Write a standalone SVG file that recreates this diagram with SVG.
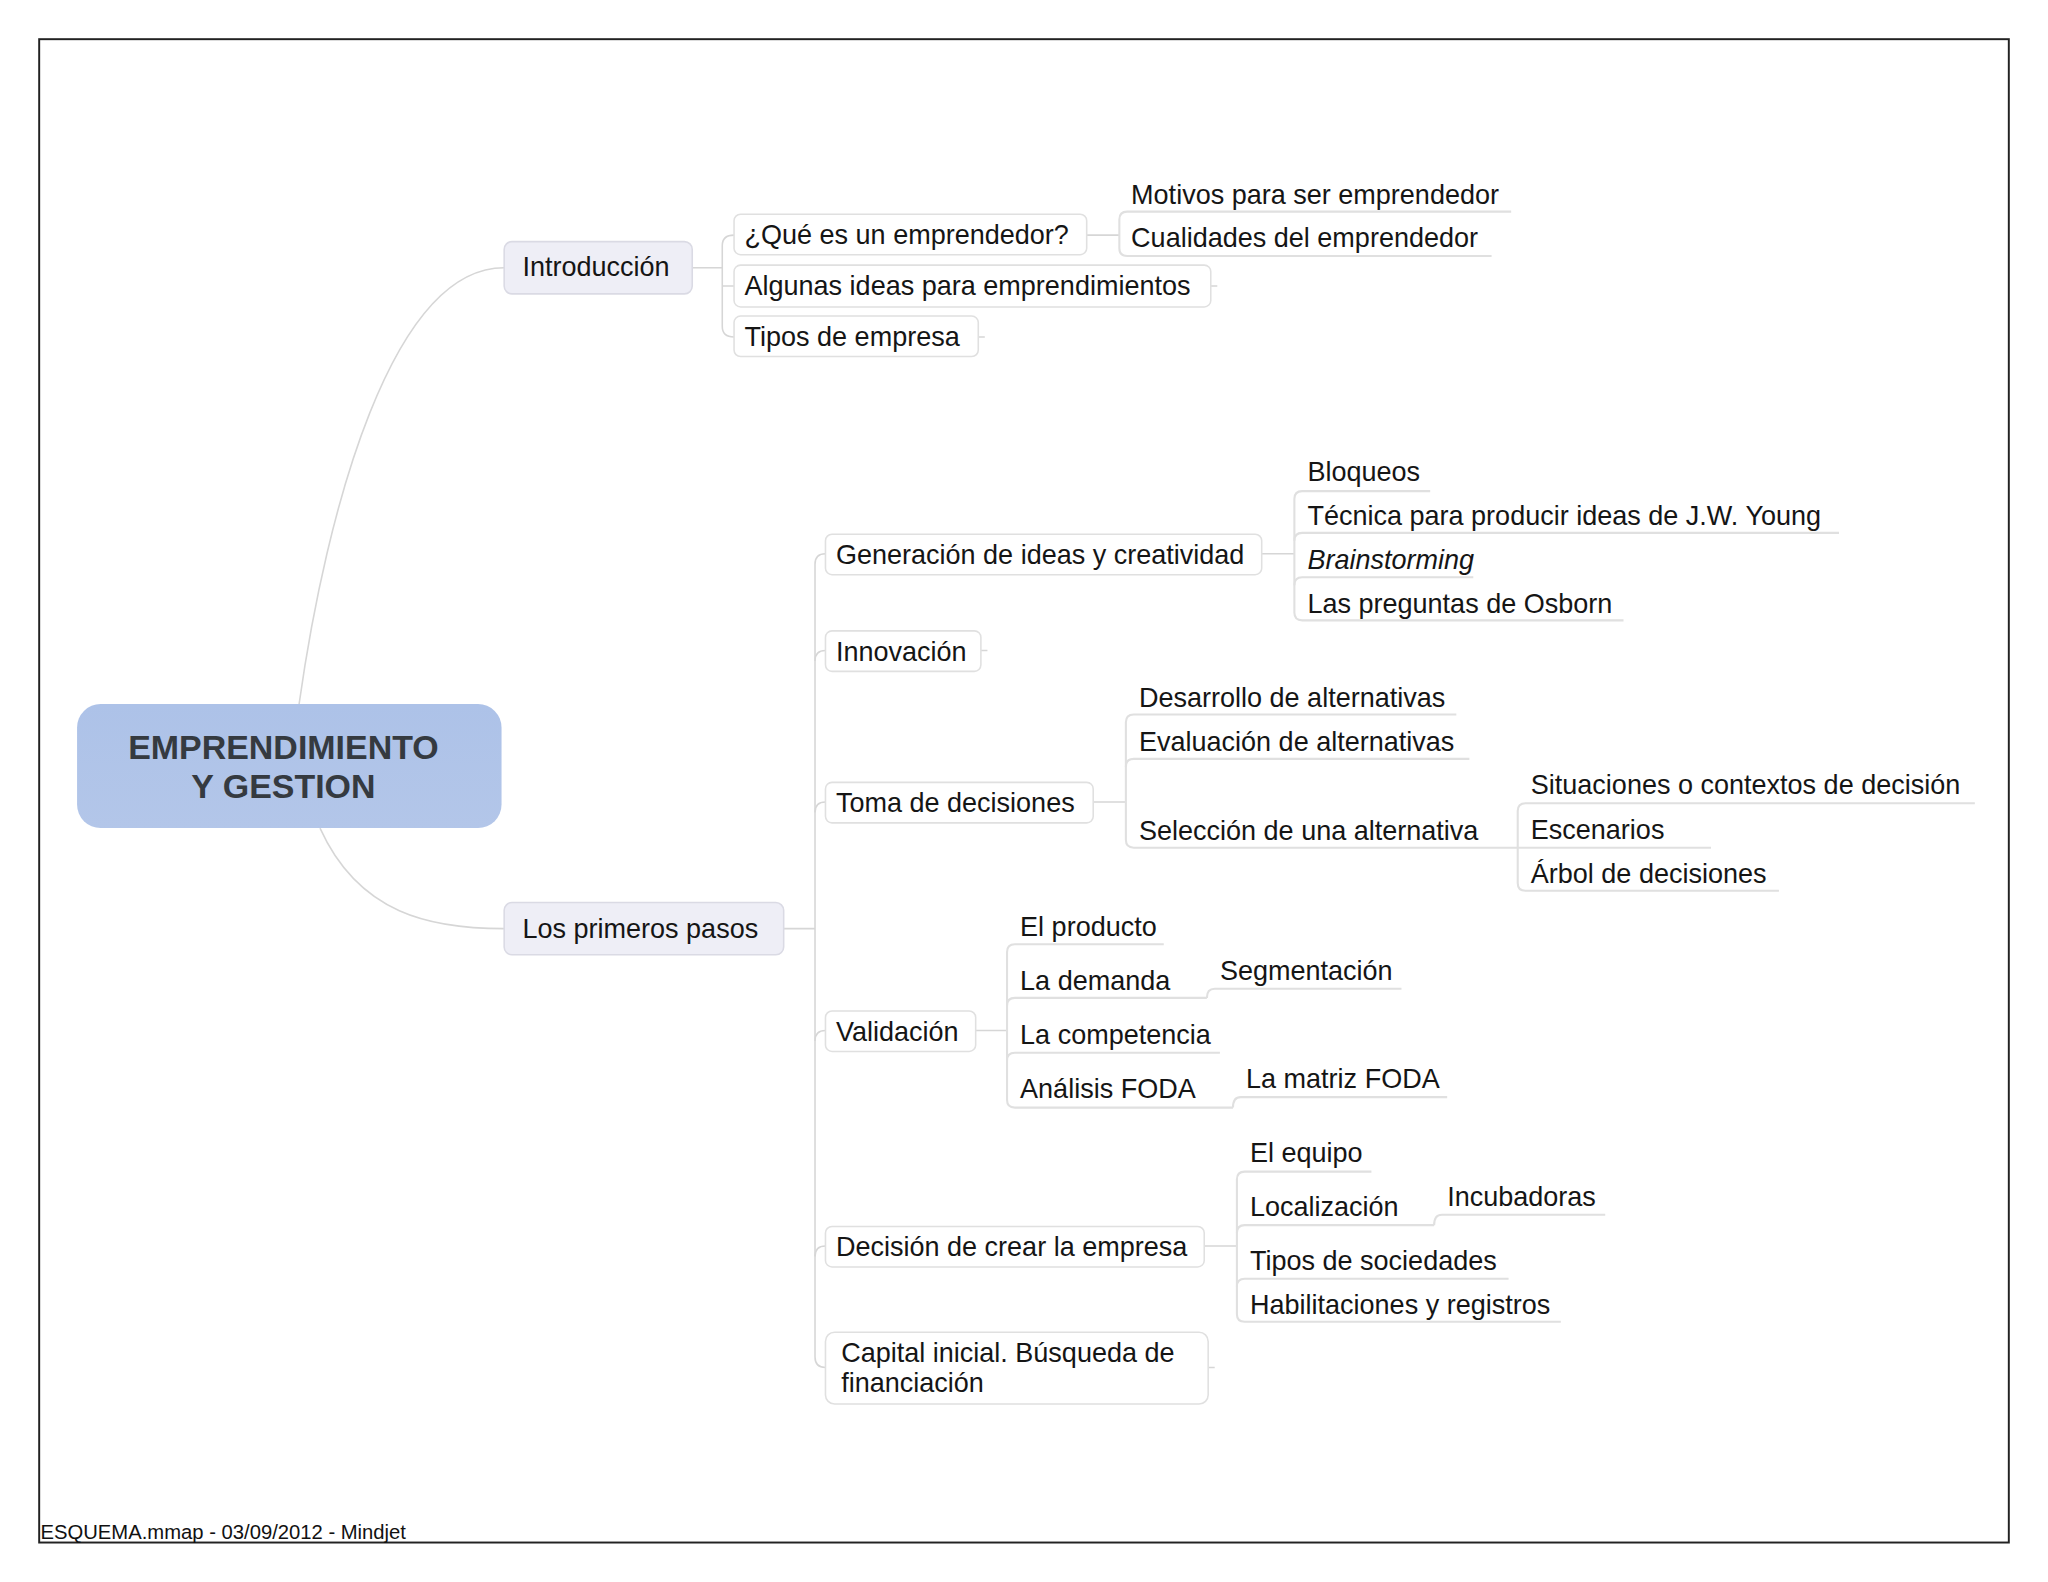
<svg xmlns="http://www.w3.org/2000/svg" width="2048" height="1582" viewBox="0 0 2048 1582">
<style>
text{font-family:"Liberation Sans",Arial,sans-serif;font-size:20.7px;fill:#151515}
.it{font-style:italic}
.ct{font-size:26px;font-weight:bold;fill:#353a40}
.ft{font-size:15.5px;fill:#111}
.conn{fill:none;stroke:#d6d6d6;stroke-width:1.2}
.ul{fill:none;stroke:#e0e0e0;stroke-width:1.6}
.box{fill:#fff;stroke:#e0e0e0;stroke-width:1.2}
.main{fill:#eeeef6;stroke:#dadae4;stroke-width:1.2}
</style>
<defs>
<linearGradient id="cg" x1="0" y1="0" x2="0" y2="1">
<stop offset="0" stop-color="#adc2e8"/>
<stop offset="1" stop-color="#b3c6e9"/>
</linearGradient>
</defs>
<rect x="0" y="0" width="2048" height="1582" fill="#fff"/>
<g transform="scale(1.306122)">
<rect x="30" y="30" width="1508" height="1151" fill="none" stroke="#222" stroke-width="1.5"/>
<text class="ft" x="31" y="1178">ESQUEMA.mmap - 03/09/2012 - Mindjet</text>

<g id="connectors">
<path class="conn" d="M229,539 C250,390 300,205 386,205"/>
<path class="conn" d="M245,634 C275,700 330,711 386,711"/>
<path class="conn" d="M530,205 L553,205"/>
<path class="conn" d="M562,180 Q553,180 553,188 L553,250 Q553,258 562,258 M553,219 L562,219"/>
<path class="conn" d="M927,219 L932,219 M749,258 L754,258"/>
<path class="conn" d="M832,180 L857,180"/>
<path class="ul" d="M1157,162 L863,162 Q857,162 857,168 L857,190 Q857,196 863,196 L1142,196"/>
<path class="conn" d="M600,711 L624,711"/>
<path class="conn" d="M632,424 Q624,424 624,432 L624,1039 Q624,1047 632,1047"/>
<path class="conn" d="M624,506 Q624,498 632,498 M624,622 Q624,614 632,614 M624,797 Q624,789 632,789 M624,962 Q624,954 632,954"/>
<path class="conn" d="M751,498 L756,498 M925,1047 L930,1047"/>
<path class="conn" d="M966,424 L991,424"/>
<path class="ul" d="M1095,376 L997,376 Q991,376 991,382 L991,469 Q991,475 997,475 L1243,475"/>
<path class="ul" d="M991,414 Q991,408 997,408 L1408,408 M991,448 Q991,442 997,442 L1128,442"/>
<path class="conn" d="M837,614 L862,614"/>
<path class="ul" d="M1115,547 L868,547 Q862,547 862,553 L862,643 Q862,649 868,649 L1162,649"/>
<path class="ul" d="M862,587 Q862,581 868,581 L1125,581"/>
<path class="ul" d="M1512,615 L1168,615 Q1162,615 1162,621 L1162,676 Q1162,682 1168,682 L1362,682"/>
<path class="ul" d="M1162,649 L1310,649"/>
<path class="conn" d="M747,789 L771,789"/>
<path class="ul" d="M891,723 L777,723 Q771,723 771,729 L771,842 Q771,848 777,848 L944,848"/>
<path class="ul" d="M771,770 Q771,764 777,764 L924,764 M771,812 Q771,806 777,806 L934,806"/>
<path class="ul" d="M924,764 Q924,757 930,757 L1073,757"/>
<path class="ul" d="M944,848 Q944,840 950,840 L1108,840"/>
<path class="conn" d="M922,954 L947,954"/>
<path class="ul" d="M1050,897 L953,897 Q947,897 947,903 L947,1006 Q947,1012 953,1012 L1195,1012"/>
<path class="ul" d="M947,944 Q947,938 953,938 L1098,938 M947,985 Q947,979 953,979 L1155,979"/>
<path class="ul" d="M1098,938 Q1098,930 1104,930 L1229,930"/>
</g>

<g id="central">
<rect x="59" y="539" width="325" height="95" rx="18" fill="url(#cg)"/>
<text class="ct" x="217" y="581" text-anchor="middle">EMPRENDIMIENTO</text>
<text class="ct" x="217" y="611" text-anchor="middle">Y GESTION</text>
</g>

<g id="introduccion"><rect class="main" x="386" y="185" width="144" height="40" rx="6"/><text x="400" y="211">Introducción</text></g>
<g id="primeros"><rect class="main" x="386" y="691" width="214" height="40" rx="6"/><text x="400" y="718">Los primeros pasos</text></g>

<g id="que-es"><rect class="box" x="562" y="164" width="270" height="31" rx="5"/><text x="570" y="187">¿Qué es un emprendedor?</text></g>
<g id="algunas"><rect class="box" x="562" y="203" width="365" height="32" rx="5"/><text x="570" y="226">Algunas ideas para emprendimientos</text></g>
<g id="tipos-empresa"><rect class="box" x="562" y="242" width="187" height="31" rx="5"/><text x="570" y="265">Tipos de empresa</text></g>
<g id="motivos"><text x="866" y="156">Motivos para ser emprendedor</text></g>
<g id="cualidades"><text x="866" y="189">Cualidades del emprendedor</text></g>

<g id="generacion"><rect class="box" x="632" y="409" width="334" height="31" rx="5"/><text x="640" y="432">Generación de ideas y creatividad</text></g>
<g id="bloqueos"><text x="1001" y="368">Bloqueos</text></g>
<g id="tecnica"><text x="1001" y="402">Técnica para producir ideas de J.W. Young</text></g>
<g id="brainstorming"><text class="it" x="1001" y="436">Brainstorming</text></g>
<g id="osborn"><text x="1001" y="469">Las preguntas de Osborn</text></g>

<g id="innovacion"><rect class="box" x="632" y="483" width="119" height="31" rx="5"/><text x="640" y="506">Innovación</text></g>

<g id="toma"><rect class="box" x="632" y="599" width="205" height="31" rx="5"/><text x="640" y="622">Toma de decisiones</text></g>
<g id="desarrollo"><text x="872" y="541">Desarrollo de alternativas</text></g>
<g id="evaluacion"><text x="872" y="575">Evaluación de alternativas</text></g>
<g id="seleccion"><text x="872" y="643">Selección de una alternativa</text></g>
<g id="situaciones"><text x="1172" y="608">Situaciones o contextos de decisión</text></g>
<g id="escenarios"><text x="1172" y="642">Escenarios</text></g>
<g id="arbol"><text x="1172" y="676">Árbol de decisiones</text></g>

<g id="validacion"><rect class="box" x="632" y="774" width="115" height="31" rx="5"/><text x="640" y="797">Validación</text></g>
<g id="producto"><text x="781" y="717">El producto</text></g>
<g id="demanda"><text x="781" y="758">La demanda</text></g>
<g id="segmentacion"><text x="934" y="750">Segmentación</text></g>
<g id="competencia"><text x="781" y="799">La competencia</text></g>
<g id="foda"><text x="781" y="841">Análisis FODA</text></g>
<g id="matriz"><text x="954" y="833">La matriz FODA</text></g>

<g id="decision"><rect class="box" x="632" y="939" width="290" height="31" rx="5"/><text x="640" y="962">Decisión de crear la empresa</text></g>
<g id="equipo"><text x="957" y="890">El equipo</text></g>
<g id="localizacion"><text x="957" y="931">Localización</text></g>
<g id="incubadoras"><text x="1108" y="923">Incubadoras</text></g>
<g id="sociedades"><text x="957" y="972">Tipos de sociedades</text></g>
<g id="habilitaciones"><text x="957" y="1006">Habilitaciones y registros</text></g>

<g id="capital"><rect class="box" x="632" y="1020" width="293" height="55" rx="7"/><text x="644" y="1043">Capital inicial. Búsqueda de</text><text x="644" y="1066">financiación</text></g>
</g>
</svg>
